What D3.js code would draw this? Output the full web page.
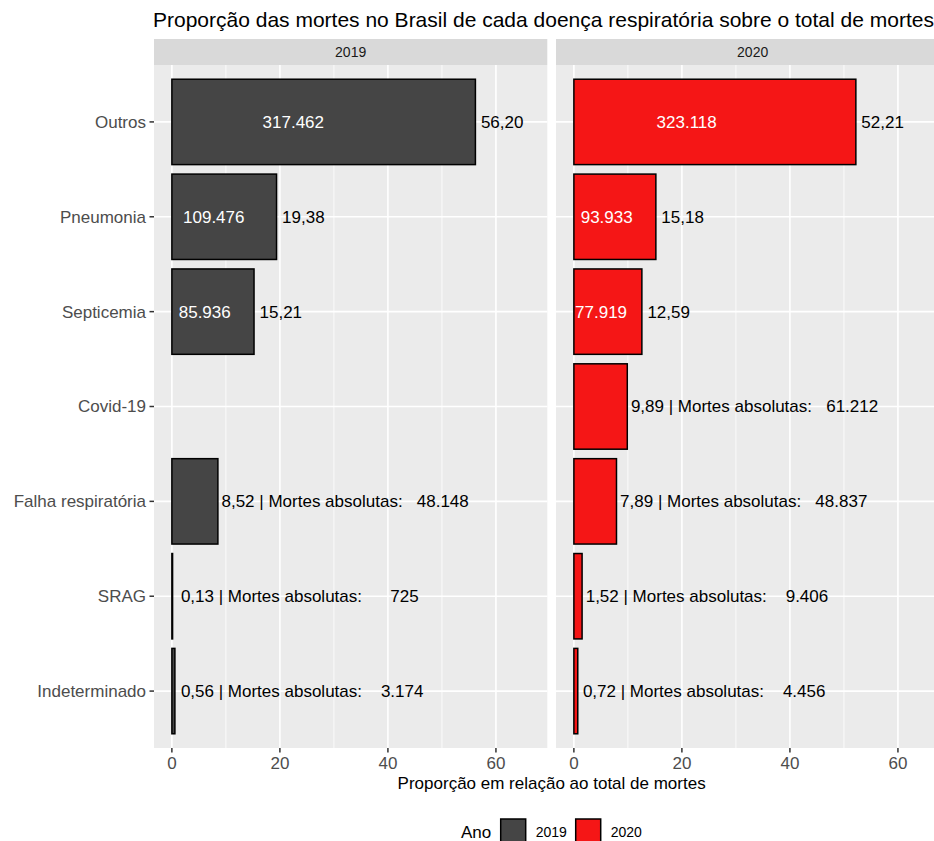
<!DOCTYPE html>
<html>
<head>
<meta charset="utf-8">
<script src="https://cdn.jsdelivr.net/npm/d3@7"></script>
<style>
  html, body { margin: 0; padding: 0; background: #fff; }
  svg { display: block; font-family: "Liberation Sans", Arial, sans-serif; }
</style>
</head>
<body>
<svg id="chart" width="934" height="841"></svg>
<script>
// ---- data ----
const categories = ["Outros", "Pneumonia", "Septicemia", "Covid-19", "Falha respiratória", "SRAG", "Indeterminado"];
const years = ["2019", "2020"];
const prop2019 = [56.20, 19.38, 15.21, null, 8.52, 0.13, 0.56];
const deaths2019 = [317462, 109476, 85936, null, 48148, 725, 3174];
const prop2020 = [52.21, 15.18, 12.59, 9.89, 7.89, 1.52, 0.72];
const deaths2020 = [323118, 93933, 77919, 61212, 48837, 9406, 4456];
const xTicks = [0, 20, 40, 60];
const xMinorTicks = [10, 30, 50];
const yearColors = ["#454545", "#F51616"];
const title = "Proporção das mortes no Brasil de cada doença respiratória sobre o total de mortes";
const xTitle = "Proporção em relação ao total de mortes";
const legendTitle = "Ano";

const propByYear = [prop2019, prop2020];
const deathsByYear = [deaths2019, deaths2020];

// ---- layout ----
const svg = d3.select("#chart");
const panelTop = 65, panelBottom = 748;
const panels = [{ x0: 154, x1: 547.3 }, { x0: 556, x1: 949.3 }];
const xDataMax = 66.2, expand = 0.05;

const locale = d3.formatLocale({ decimal: ",", thousands: ".", grouping: [3], currency: ["", ""] });
const fmtProp = locale.format(".2f");
const fmtInt = locale.format(",d");

const y = d3.scalePoint().domain(categories).range([panelTop, panelBottom]).padding(0.6);
const bandH = y.step() * 0.9;

// Title
svg.append("text").attr("x", 153).attr("y", 27)
  .attr("font-size", 21).attr("fill", "#000").text(title);

years.forEach((yr, p) => {
  const P = panels[p];
  const x = d3.scaleLinear().domain([-xDataMax * expand, xDataMax * (1 + expand)]).range([P.x0, P.x1]);
  const g = svg.append("g");

  // strip
  g.append("rect").attr("x", P.x0).attr("y", 39).attr("width", P.x1 - P.x0).attr("height", 26).attr("fill", "#D9D9D9");
  g.append("text").attr("x", (P.x0 + P.x1) / 2).attr("y", 57.3).attr("text-anchor", "middle")
    .attr("font-size", 14).attr("fill", "#1A1A1A").text(yr);

  // panel background
  g.append("rect").attr("x", P.x0).attr("y", panelTop).attr("width", P.x1 - P.x0).attr("height", panelBottom - panelTop).attr("fill", "#EBEBEB");

  // grid
  g.selectAll(".minor").data(xMinorTicks).enter().append("line")
    .attr("x1", d => x(d)).attr("x2", d => x(d)).attr("y1", panelTop).attr("y2", panelBottom)
    .attr("stroke", "#fff").attr("stroke-width", 0.8);
  g.selectAll(".major").data(xTicks).enter().append("line")
    .attr("x1", d => x(d)).attr("x2", d => x(d)).attr("y1", panelTop).attr("y2", panelBottom)
    .attr("stroke", "#fff").attr("stroke-width", 1.6);
  g.selectAll(".hgrid").data(categories).enter().append("line")
    .attr("x1", P.x0).attr("x2", P.x1).attr("y1", d => y(d)).attr("y2", d => y(d))
    .attr("stroke", "#fff").attr("stroke-width", 1.6);

  // x axis
  const xa = g.append("g");
  xTicks.forEach(t => {
    xa.append("line").attr("x1", x(t)).attr("x2", x(t)).attr("y1", panelBottom).attr("y2", panelBottom + 4.5)
      .attr("stroke", "#333").attr("stroke-width", 1.5);
    xa.append("text").attr("x", x(t)).attr("y", 769).attr("text-anchor", "middle")
      .attr("font-size", 17).attr("fill", "#4D4D4D").text(t);
  });

  // y axis (left panel only)
  if (p === 0) {
    categories.forEach(c => {
      g.append("line").attr("x1", P.x0 - 4.5).attr("x2", P.x0).attr("y1", y(c)).attr("y2", y(c))
        .attr("stroke", "#333").attr("stroke-width", 1.5);
      g.append("text").attr("x", P.x0 - 8).attr("y", y(c)).attr("dy", "0.35em").attr("text-anchor", "end")
        .attr("font-size", 17).attr("fill", "#4D4D4D").text(c);
    });
  }

  // bars
  const rows = categories.map((c, i) => ({ c, v: propByYear[p][i], n: deathsByYear[p][i] })).filter(d => d.v != null);
  g.selectAll(".bar").data(rows).enter().append("rect")
    .attr("x", x(0)).attr("y", d => y(d.c) - bandH / 2)
    .attr("width", d => x(d.v) - x(0)).attr("height", bandH)
    .attr("fill", yearColors[p]).attr("stroke", "#000").attr("stroke-width", 1.5);

  rows.forEach(d => {
    if (d.v > 10) {
      g.append("text").attr("x", x(d.v * 0.4)).attr("y", y(d.c)).attr("dy", "0.35em").attr("text-anchor", "middle")
        .attr("font-size", 17).attr("fill", "#fff").text(fmtInt(d.n));
      g.append("text").attr("x", x(d.v) + 5.5).attr("y", y(d.c)).attr("dy", "0.35em")
        .attr("font-size", 17).attr("fill", "#000").text(fmtProp(d.v));
    } else {
      const label = fmtProp(d.v) + " | Mortes absolutas:  " + fmtInt(d.n).padStart(7, " ");
      g.append("text").attr("x", x(Math.max(d.v, 1)) + 3.6).attr("y", y(d.c)).attr("dy", "0.35em")
        .attr("font-size", 17).attr("fill", "#000").style("white-space", "pre").text(label);
    }
  });
});

// x axis title
svg.append("text").attr("x", (panels[0].x0 + panels[1].x1) / 2).attr("y", 789).attr("text-anchor", "middle")
  .attr("font-size", 17).attr("fill", "#000").text(xTitle);

// legend
const lg = svg.append("g");
lg.append("text").attr("x", 461).attr("y", 837.7).attr("font-size", 17).attr("fill", "#000").text(legendTitle);
const keyX = [500.7, 575.7];
years.forEach((yr, i) => {
  lg.append("rect").attr("x", keyX[i]).attr("y", 819).attr("width", 25).attr("height", 25)
    .attr("fill", yearColors[i]).attr("stroke", "#000").attr("stroke-width", 1.5);
  lg.append("text").attr("x", keyX[i] + 35).attr("y", 836.5).attr("font-size", 14).attr("fill", "#000").text(yr);
});
</script>
</body>
</html>
